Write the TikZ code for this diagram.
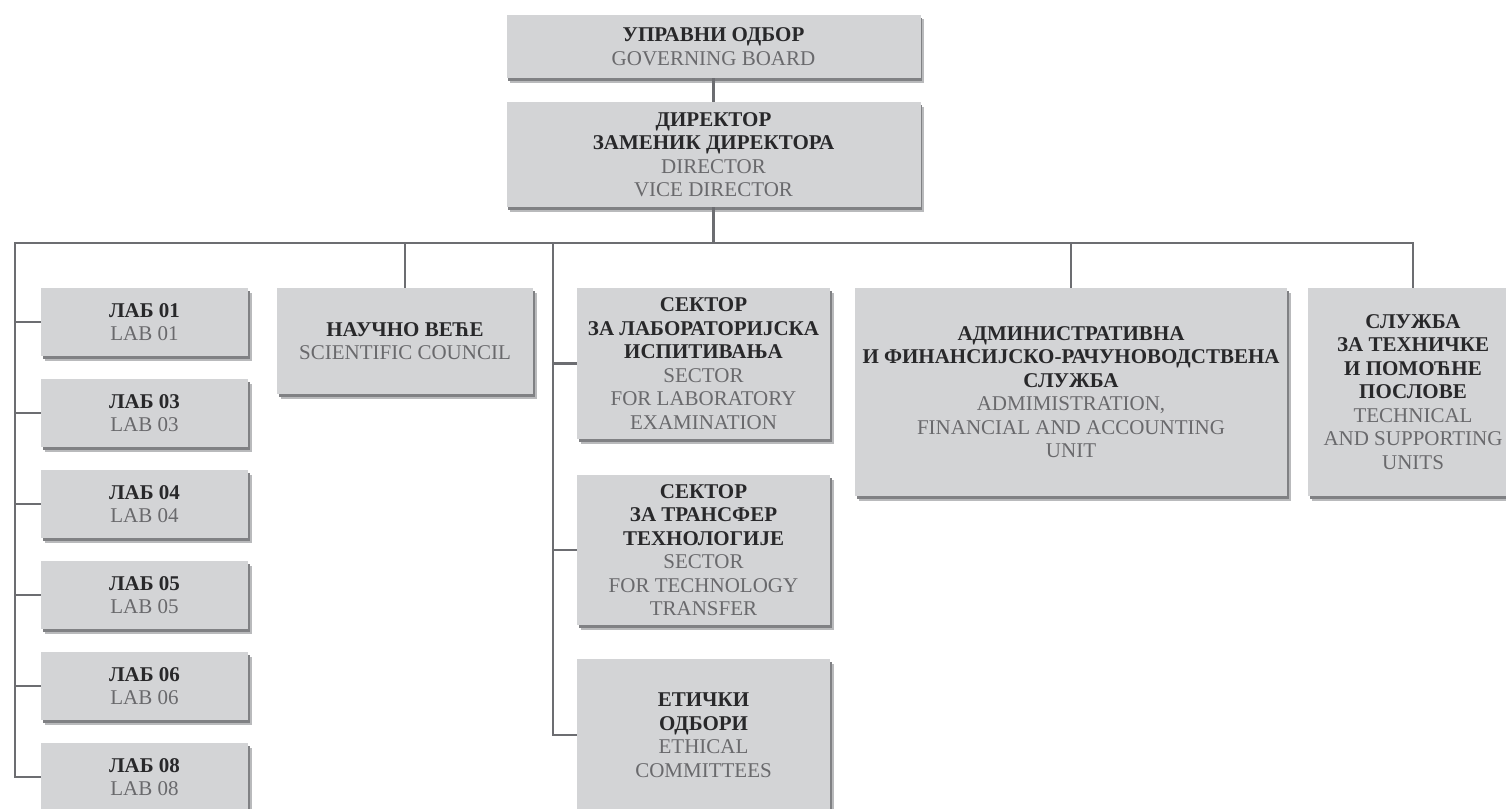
\documentclass[tikz,border=0pt]{standalone}
\usepackage{fontspec}
\setmainfont{Liberation Serif}
\definecolor{boxfill}{RGB}{211,212,214}
\definecolor{shadowA}{RGB}{185,186,188}
\definecolor{shadowB}{RGB}{128,129,132}
\definecolor{linecol}{RGB}{108,109,113}
\definecolor{cytext}{RGB}{40,40,42}
\definecolor{entext}{RGB}{105,105,108}
\newcommand\cyline[1]{{\bfseries\color{cytext}#1}}
\newcommand\enline[1]{{\color{entext}#1}}
\tikzset{
  orgbox/.style={fill=boxfill, draw=none, align=center, inner sep=0pt,
    font=\fontsize{21}{23.5}\selectfont,
    preaction={fill=shadowA, transform canvas={xshift=3.5pt, yshift=-4.5pt}},
    preaction={fill=shadowB, transform canvas={xshift=1.8pt, yshift=-2.6pt}}},
  labbox/.style={orgbox, minimum width=207pt, minimum height=68pt},
  conn/.style={draw=linecol, line width=2.8pt, line join=miter}
}
\begin{document}
\begin{tikzpicture}[x=1pt, y=-1pt]
\useasboundingbox[fill=white] (0,0) rectangle (1506,808);

% top boxes
\node[orgbox, minimum width=414pt, minimum height=63pt] (gov) at (713.5,46.5)
  {\cyline{УПРАВНИ ОДБОР}\\\enline{GOVERNING BOARD}};
\node[orgbox, minimum width=414pt, minimum height=105pt] (dir) at (713.5,154.5)
  {\cyline{ДИРЕКТОР}\\\cyline{ЗАМЕНИК ДИРЕКТОРА}\\\enline{DIRECTOR}\\\enline{VICE DIRECTOR}};

% labs
\node[labbox] (lab1) at (144.5,322) {\cyline{ЛАБ 01}\\\enline{LAB 01}};
\node[labbox] (lab3) at (144.5,413) {\cyline{ЛАБ 03}\\\enline{LAB 03}};
\node[labbox] (lab4) at (144.5,504) {\cyline{ЛАБ 04}\\\enline{LAB 04}};
\node[labbox] (lab5) at (144.5,595) {\cyline{ЛАБ 05}\\\enline{LAB 05}};
\node[labbox] (lab6) at (144.5,686) {\cyline{ЛАБ 06}\\\enline{LAB 06}};
\node[labbox] (lab8) at (144.5,777) {\cyline{ЛАБ 08}\\\enline{LAB 08}};

% scientific council
\node[orgbox, minimum width=256pt, minimum height=106pt] (sc) at (405,341)
  {\cyline{НАУЧНО ВЕЋЕ}\\\enline{SCIENTIFIC COUNCIL}};

% sectors
\node[orgbox, minimum width=253pt, minimum height=151pt] (sec1) at (703.5,363.5)
  {\cyline{СЕКТОР}\\\cyline{ЗА ЛАБОРАТОРИЈСКА}\\\cyline{ИСПИТИВАЊА}\\\enline{SECTOR}\\\enline{FOR LABORATORY}\\\enline{EXAMINATION}};
\node[orgbox, minimum width=253pt, minimum height=150pt] (sec2) at (703.5,550)
  {\cyline{СЕКТОР}\\\cyline{ЗА ТРАНСФЕР}\\\cyline{ТЕХНОЛОГИЈЕ}\\\enline{SECTOR}\\\enline{FOR TECHNOLOGY}\\\enline{TRANSFER}};
\node[orgbox, minimum width=253pt, minimum height=152pt] (eth) at (703.5,735)
  {\cyline{ЕТИЧКИ}\\\cyline{ОДБОРИ}\\\enline{ETHICAL}\\\enline{COMMITTEES}};

% admin & tech
\node[orgbox, minimum width=432pt, minimum height=208pt] (adm) at (1071,392)
  {\cyline{АДМИНИСТРАТИВНА}\\\cyline{И ФИНАНСИЈСКО-РАЧУНОВОДСТВЕНА}\\\cyline{СЛУЖБА}\\\enline{ADMIMISTRATION,}\\\enline{FINANCIAL AND ACCOUNTING}\\\enline{UNIT}};
\node[orgbox, minimum width=210pt, minimum height=208pt] (tech) at (1413,392)
  {\cyline{СЛУЖБА}\\\cyline{ЗА ТЕХНИЧКЕ}\\\cyline{И ПОМОЋНЕ}\\\cyline{ПОСЛОВЕ}\\\enline{TECHNICAL}\\\enline{AND SUPPORTING}\\\enline{UNITS}};

% connectors
\coordinate (busL) at (15,243);
\coordinate (busR) at (1413,243);
\coordinate (sv) at (553,243);

\draw[conn] (gov.south) -- (dir.south |- gov.south) -- (dir.north);
\draw[conn] (dir.south) -- (dir.south |- busL);
\draw[conn] (lab8.west) -| (busL) -- (busR) -- (tech.north);
\foreach \n in {lab1,lab3,lab4,lab5,lab6}
  \draw[conn] (busL |- \n.west) -- (\n.west);
\draw[conn] (sc.north |- busL) -- (sc.north);
\draw[conn] (eth.west) -| (sv);
\draw[conn] (sv |- sec1.west) -- (sec1.west);
\draw[conn] (sv |- sec2.west) -- (sec2.west);
\draw[conn] (adm.north |- busL) -- (adm.north);
\end{tikzpicture}
\end{document}
